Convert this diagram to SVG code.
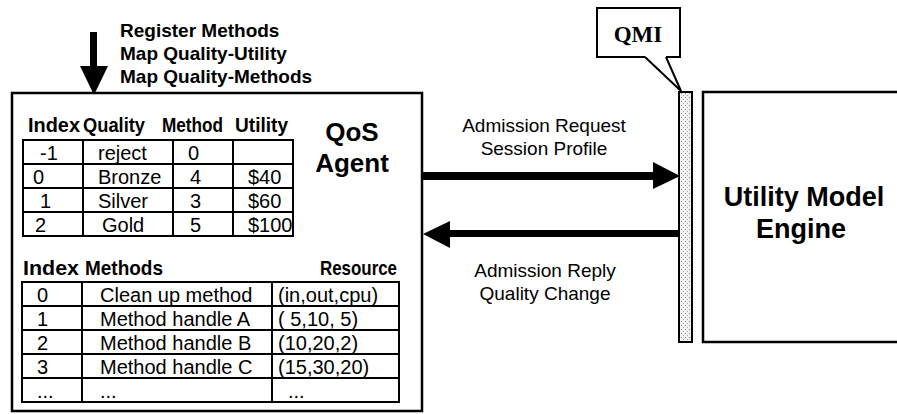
<svg xmlns="http://www.w3.org/2000/svg" width="897" height="414" viewBox="0 0 897 414">
<style>
.t{font-family:"Liberation Sans",Arial,sans-serif;fill:#000}
.b{font-weight:bold}
.c{font-size:20px}
.lbl{font-size:19px}
.box{fill:#fff;stroke:#000;stroke-width:2.5}
.grid{fill:none;stroke:#000;stroke-width:2}
</style>
<defs>
<pattern id="dots" width="4" height="4" patternUnits="userSpaceOnUse">
<rect width="4" height="4" fill="#f2f2f2"/>
<rect x="1" y="1" width="1" height="1" fill="#888"/>
<rect x="3" y="3" width="1" height="1" fill="#aaa"/>
</pattern>
</defs>
<rect width="897" height="414" fill="#fff"/>

<g id="input">
<rect x="90" y="32" width="7" height="36" fill="#000"/>
<polygon points="80,66 108,66 94,95" fill="#000"/>
<text class="t b lbl" x="120" y="37">Register Methods</text>
<text class="t b lbl" x="120" y="60">Map Quality-Utility</text>
<text class="t b lbl" x="120" y="83">Map Quality-Methods</text>
</g>

<g id="qos-agent">
<rect class="box" x="12" y="93" width="410" height="318"/>
<text class="t b" font-size="26" x="352" y="141" text-anchor="middle">QoS</text>
<text class="t b" font-size="26" x="352" y="172" text-anchor="middle">Agent</text>
<g id="quality-table">
<text class="t b" font-size="21" x="28" y="132" textLength="52" lengthAdjust="spacingAndGlyphs">Index</text>
<text class="t b" font-size="21" x="83" y="132" textLength="62" lengthAdjust="spacingAndGlyphs">Quality</text>
<text class="t b" font-size="21" x="162" y="132" textLength="61" lengthAdjust="spacingAndGlyphs">Method</text>
<text class="t b" font-size="21" x="235" y="132" textLength="53" lengthAdjust="spacingAndGlyphs">Utility</text>
<rect class="grid" x="23" y="140" width="270" height="96"/>
<path class="grid" d="M23,164H293M23,188H293M23,212H293M83,140V236M173,140V236M233,140V236"/>
<text class="t c" x="40" y="160">-1</text><text class="t c" x="98" y="160">reject</text><text class="t c" x="188" y="160">0</text>
<text class="t c" x="33" y="184">0</text><text class="t c" x="98" y="184">Bronze</text><text class="t c" x="190" y="184">4</text><text class="t c" x="248" y="184">$40</text>
<text class="t c" x="40" y="208">1</text><text class="t c" x="98" y="208">Silver</text><text class="t c" x="190" y="208">3</text><text class="t c" x="248" y="208">$60</text>
<text class="t c" x="35" y="232">2</text><text class="t c" x="102" y="232">Gold</text><text class="t c" x="190" y="232">5</text><text class="t c" x="248" y="232">$100</text>
</g>
<g id="method-table">
<text class="t b" font-size="21" x="23" y="275" textLength="56" lengthAdjust="spacingAndGlyphs">Index</text>
<text class="t b" font-size="21" x="85" y="275" textLength="78" lengthAdjust="spacingAndGlyphs">Methods</text>
<text class="t b" font-size="21" x="320" y="275" textLength="77" lengthAdjust="spacingAndGlyphs">Resource</text>
<rect class="grid" x="22" y="282" width="377" height="120"/>
<path class="grid" d="M22,306H399M22,330H399M22,354H399M22,378H399M82,282V402M272,282V402"/>
<text class="t c" x="37" y="302">0</text><text class="t c" x="100" y="302">Clean up method</text><text class="t c" x="278" y="302">(in,out,cpu)</text>
<text class="t c" x="37" y="326">1</text><text class="t c" x="100" y="326">Method handle A</text><text class="t c" x="278" y="326">( 5,10, 5)</text>
<text class="t c" x="37" y="350">2</text><text class="t c" x="100" y="350">Method handle B</text><text class="t c" x="278" y="350">(10,20,2)</text>
<text class="t c" x="37" y="374">3</text><text class="t c" x="100" y="374">Method handle C</text><text class="t c" x="278" y="374">(15,30,20)</text>
<text class="t c" x="37" y="398">...</text><text class="t c" x="100" y="398">...</text><text class="t c" x="288" y="398">...</text>
</g>
</g>

<g id="qmi">
<rect x="679" y="92" width="13" height="250" fill="url(#dots)" stroke="#000" stroke-width="2"/>
<path d="M645,57H597V8H680V57H666" fill="#fff" stroke="#000" stroke-width="2"/>
<path d="M645,57L681,91L666,57" fill="#fff" stroke="#000" stroke-width="2" stroke-linejoin="miter"/>
<text x="638" y="42" font-family="'Liberation Serif','Times New Roman',serif" font-weight="bold" font-size="23" text-anchor="middle">QMI</text>
</g>

<g id="utility-engine">
<rect class="box" x="703" y="92" width="200" height="250"/>
<text class="t b" font-size="27" x="804" y="206" text-anchor="middle">Utility Model</text>
<text class="t b" font-size="27" x="801" y="238" text-anchor="middle">Engine</text>
</g>

<g id="connectors">
<rect x="422" y="172" width="233" height="8" fill="#000"/>
<polygon points="653,162 680,176 653,189" fill="#000"/>
<rect x="448" y="230" width="231" height="7" fill="#000"/>
<polygon points="450,221 423,234 450,248" fill="#000"/>
<text class="t lbl" x="544" y="132" text-anchor="middle">Admission Request</text>
<text class="t lbl" x="544" y="155" text-anchor="middle">Session Profile</text>
<text class="t lbl" x="545" y="277" text-anchor="middle">Admission Reply</text>
<text class="t lbl" x="545" y="300" text-anchor="middle">Quality Change</text>
</g>
</svg>
